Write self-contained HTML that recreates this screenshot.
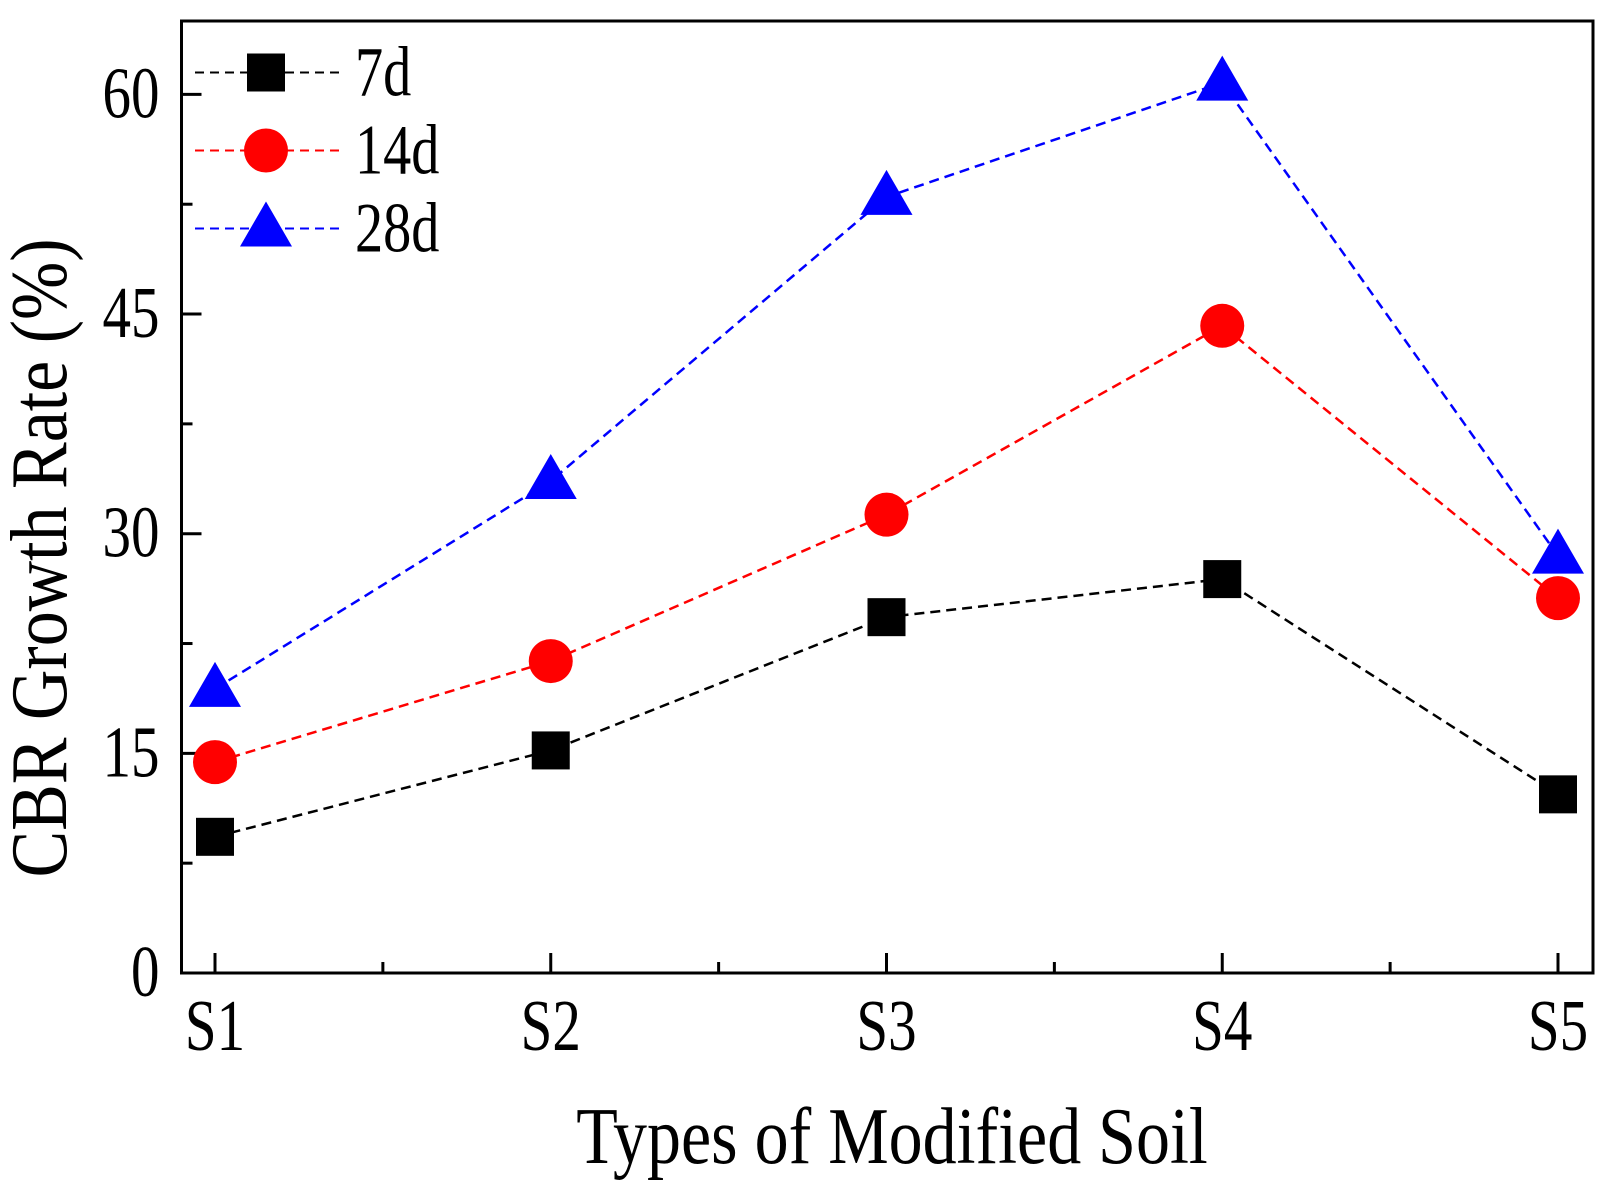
<!DOCTYPE html>
<html><head><meta charset="utf-8"><style>
html,body{margin:0;padding:0;background:#fff}
svg text{font-family:"Liberation Serif",serif;fill:#000}
</style></head><body>
<svg id="c" width="1618" height="1185" viewBox="0 0 1618 1185" xmlns="http://www.w3.org/2000/svg">
<g id="g"></g>
</svg>
<script>
const categories = ["S1","S2","S3","S4","S5"];
const series7d = [9.3, 15.2, 24.3, 26.9, 12.2];
const series14d = [14.4, 21.3, 31.3, 44.2, 25.6];
const series28d = [19.4, 33.6, 53.0, 60.8, 28.5];
const yTicks = [0, 15, 30, 45, 60];
const seriesNames = ["7d","14d","28d"];

const L=181.5,R=1593,T=21,B=973;
const x0=215,x1=1558;
const xs=i=>x0+(x1-x0)*i/(categories.length-1);
const ys=v=>B-(B-94.4)*v/60;
const NS="http://www.w3.org/2000/svg";
const g=document.getElementById('g');
function mk(t,a,p){const e=document.createElementNS(NS,t);for(const k in a)e.setAttribute(k,a[k]);(p||g).appendChild(e);return e;}
function txt(x,y,s,anchor,size,sx,sy,rot,p){
  const e=mk('text',{x:0,y:0,'text-anchor':anchor,'font-size':size,transform:`translate(${x},${y}) rotate(${rot||0}) scale(${sx},${sy})`},p);
  e.textContent=s;return e;
}

let fr=mk('rect',{x:L,y:T,width:R-L,height:B-T,fill:'none',stroke:'#000','stroke-width':3});



yTicks.forEach(v=>{
  const y=ys(v);
  const t=mk('line',{x1:L,x2:L+20,y1:y,y2:y,stroke:'#000','stroke-width':3});
  
  
  const lb=txt(L-22,y+23,String(v),'end',60,0.95,1.22);
  
  
});
for(let v=7.5;v<=60;v+=15){
  const y=ys(v);
  const t=mk('line',{x1:L,x2:L+11,y1:y,y2:y,stroke:'#000','stroke-width':3});
  
  
}
categories.forEach((c,i)=>{
  const x=xs(i);
  const t=mk('line',{x1:x,x2:x,y1:B,y2:B-20,stroke:'#000','stroke-width':3});
  
  
  const lb=txt(x,B+77,c,'middle',60,0.95,1.22);
  
  
  if(i<categories.length-1){
    const xm=(x+xs(i+1))/2;
    const m=mk('line',{x1:xm,x2:xm,y1:B,y2:B-11,stroke:'#000','stroke-width':3});
    
    
  }
});

const xt=txt(892,1163,'Types of Modified Soil','middle',66,1.03,1.22);


const yt=txt(66,558,'CBR Growth Rate (%)','middle',66,1.06,1.22,-90);



function marker(type,x,y,color,p){
  let e;
  if(type===0) e=mk('rect',{x:x-19,y:y-19,width:38,height:38,fill:color},p);
  else if(type===1) e=mk('circle',{cx:x,cy:y,r:22,fill:color},p);
  else e=mk('polygon',{points:`${x},${y-27} ${x-26},${y+18} ${x+26},${y+18}`,fill:color},p);
  return e;
}
const allSeries=[series7d,series14d,series28d];
const colors=['#000','#f00','#00f'];
allSeries.forEach((s,k)=>{
  const sg=mk('g',{});
  
  
  const pl=mk('polyline',{points:s.map((v,i)=>xs(i)+','+ys(v)).join(' '),fill:'none',stroke:colors[k],'stroke-width':2.5,'stroke-dasharray':'10,6'},sg);
  
  
  s.forEach((v,i)=>{
    const m=marker(k,xs(i),ys(v),colors[k],sg);
    
    
  });
  const ly=72.5+k*78;
  const lg=mk('g',{});
  
  
  mk('line',{x1:195,x2:340,y1:ly,y2:ly,stroke:colors[k],'stroke-width':2,'stroke-dasharray':'9,6'},lg);
  marker(k,266,ly,colors[k],lg);
  txt(355,ly+23,seriesNames[k],'start',58,0.97,1.22,0,lg);
});
</script>
</body></html>
